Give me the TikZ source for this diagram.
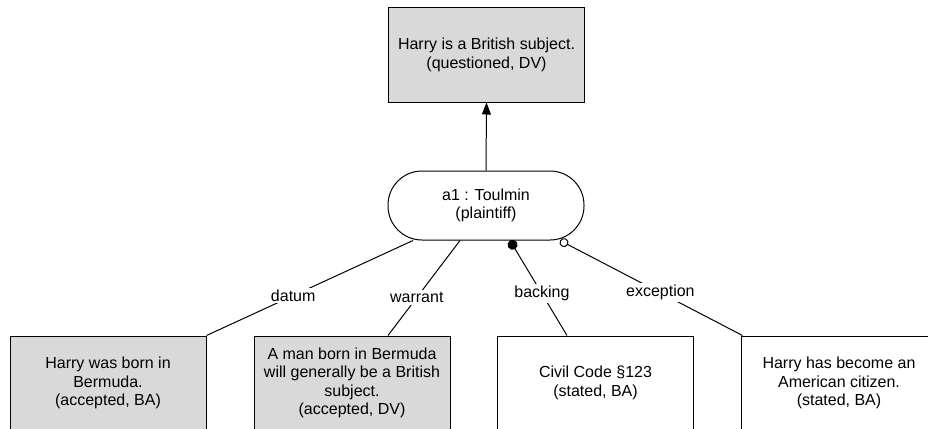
\documentclass[tikz,border=0pt]{standalone}
\usepackage{fontspec}
\setmainfont{Liberation Sans}
\usetikzlibrary{arrows.meta,calc}
\tikzset{
  stmt/.style={draw, line width=1pt, minimum width=196pt, minimum height=94pt, align=center, inner sep=2pt},
  grayst/.style={stmt, fill=black!15},
  whitest/.style={stmt, fill=white},
  argnode/.style={draw, line width=1pt, fill=white, rounded corners=34pt, minimum width=196pt, minimum height=69pt, align=center},
  conn/.style={line width=1pt},
  lbl/.style={fill=white, inner sep=2pt}
}
\begin{document}
\begin{tikzpicture}[x=1pt, y=-1pt, font=\fontsize{16}{18.5}\selectfont]
\useasboundingbox (0,0) rectangle (928,428);
\clip (0,0) rectangle (928,428);
\node[grayst] (claim) at (486.5,55) {Harry is a British subject.\\(questioned, DV)};
\node[argnode] (a1) at (486,205.5) {a1 : Toulmin\\(plaintiff)};
\node[grayst] (b1) at (108,383) {Harry was born in\\Bermuda.\\(accepted, BA)};
\node[grayst] (b2) at (352,383) {A man born in Bermuda\\will generally be a British\\subject.\\(accepted, DV)};
\node[whitest] (b3) at (595.5,383) {Civil Code §123\\(stated, BA)};
\node[whitest] (b4) at (839,383) {Harry has become an\\American citizen.\\(stated, BA)};
\draw[conn, -{Triangle[length=12pt, width=9pt]}] (a1.north) -- (claim.south);
\draw[conn] (b1.north east) -- node[lbl, pos=0.42] {datum} ($(a1.south)+(-73,0)$);
\draw[conn] ($(b2.north)+(36,0)$) -- node[lbl, pos=0.40] {warrant} ($(a1.south)+(-26,0)$);
\draw[conn, -{Circle[length=10pt]}] ($(b3.north)+(-28.5,0)$) -- node[lbl, pos=0.44] {backing} ($(a1.south)+(24,0)$);
\draw[conn, -{Circle[length=9pt, open, fill=white]}] ($(b4.north west)+(2,0)$) -- node[lbl, pos=0.45] {exception} ($(a1.south)+(74,0)$);
\end{tikzpicture}
\end{document}
